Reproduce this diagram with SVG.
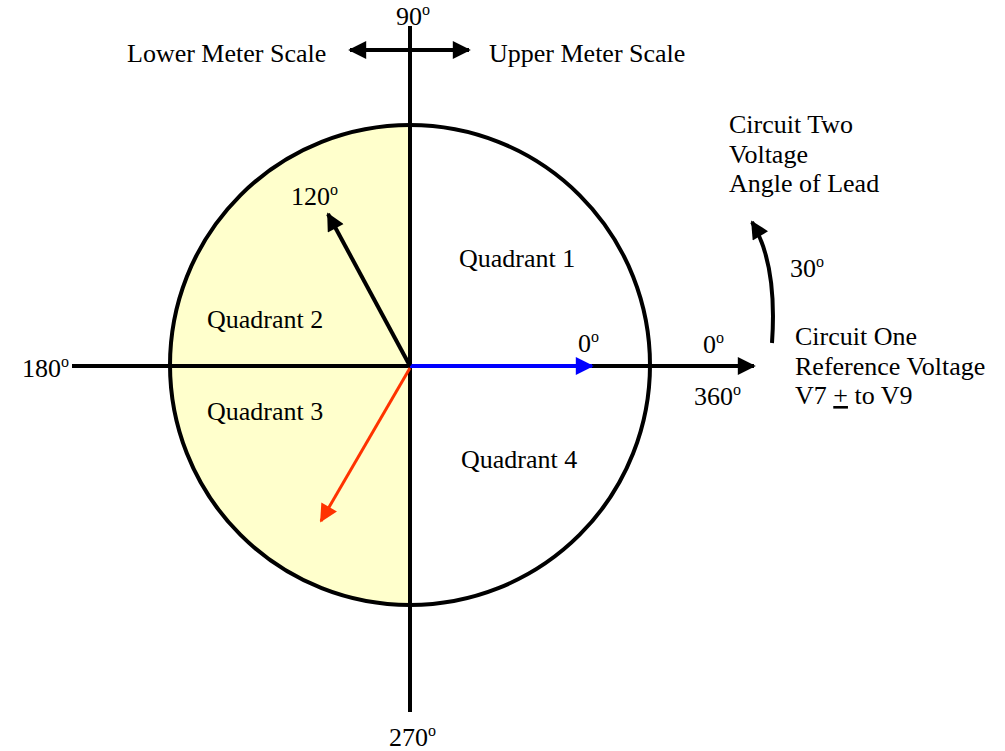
<svg xmlns="http://www.w3.org/2000/svg" width="1005" height="751" viewBox="0 0 1005 751">
<defs>
<style>
text{font-family:"Liberation Serif","Times New Roman",serif;font-size:26px;fill:#000}
.sup{font-size:16px}
.ln{stroke:#000;stroke-width:4;fill:none}
</style>
<marker id="ahk" viewBox="0 0 10 10" refX="9" refY="5" markerWidth="20" markerHeight="18" orient="auto" markerUnits="userSpaceOnUse"><path d="M0,0 L10,5 L0,10 z" fill="#000"/></marker>
<marker id="ahb" viewBox="0 0 10 10" refX="9" refY="5" markerWidth="20" markerHeight="18" orient="auto" markerUnits="userSpaceOnUse"><path d="M0,0 L10,5 L0,10 z" fill="#0000ff"/></marker>
<marker id="ahr" viewBox="0 0 10 10" refX="9" refY="5" markerWidth="20" markerHeight="18" orient="auto" markerUnits="userSpaceOnUse"><path d="M0,0 L10,5 L0,10 z" fill="#ff3300"/></marker>
</defs>
<rect width="1005" height="751" fill="#fff"/>
<g id="circle">
<path d="M410,125 A240,240 0 0 0 410,605 Z" fill="#ffffcc"/>
<circle cx="410" cy="365" r="240" class="ln"/>
</g>
<g id="connectors">
<line x1="410" y1="26" x2="410" y2="712" class="ln"/>
<line x1="72" y1="366" x2="754" y2="366" class="ln" marker-end="url(#ahk)"/>
<line x1="410" y1="50" x2="350" y2="50" class="ln" marker-end="url(#ahk)"/>
<line x1="410" y1="50" x2="469" y2="50" class="ln" marker-end="url(#ahk)"/>
<line x1="410" y1="366" x2="592" y2="366" stroke="#0000ff" stroke-width="4" marker-end="url(#ahb)"/>
<line x1="410" y1="366" x2="328" y2="214" class="ln" marker-end="url(#ahk)"/>
<line x1="410" y1="368" x2="321" y2="521" stroke="#ff3300" stroke-width="3" marker-end="url(#ahr)"/>
<path d="M772,343 C775,300 772,255 752,222" class="ln" marker-end="url(#ahk)"/>
</g>
<g id="labels">
<text x="396" y="25">90<tspan class="sup" dy="-10">o</tspan></text>
<text x="127" y="62">Lower Meter Scale</text>
<text x="489" y="62">Upper Meter Scale</text>
<text x="729" y="133">Circuit Two</text>
<text x="729" y="163">Voltage</text>
<text x="729" y="192">Angle of Lead</text>
<text x="291" y="205">120<tspan class="sup" dy="-10">o</tspan></text>
<text x="459" y="267">Quadrant 1</text>
<text x="207" y="328">Quadrant 2</text>
<text x="790" y="277">30<tspan class="sup" dy="-10">o</tspan></text>
<text x="578" y="352">0<tspan class="sup" dy="-10">o</tspan></text>
<text x="703" y="353">0<tspan class="sup" dy="-10">o</tspan></text>
<text x="795" y="345">Circuit One</text>
<text x="795" y="375">Reference Voltage</text>
<text x="795" y="404">V7 <tspan text-decoration="underline">+</tspan> to V9</text>
<text x="22" y="377">180<tspan class="sup" dy="-10">o</tspan></text>
<text x="694" y="405">360<tspan class="sup" dy="-10">o</tspan></text>
<text x="207" y="420">Quadrant 3</text>
<text x="461" y="468">Quadrant 4</text>
<text x="389" y="746">270<tspan class="sup" dy="-10">o</tspan></text>
</g>
</svg>
